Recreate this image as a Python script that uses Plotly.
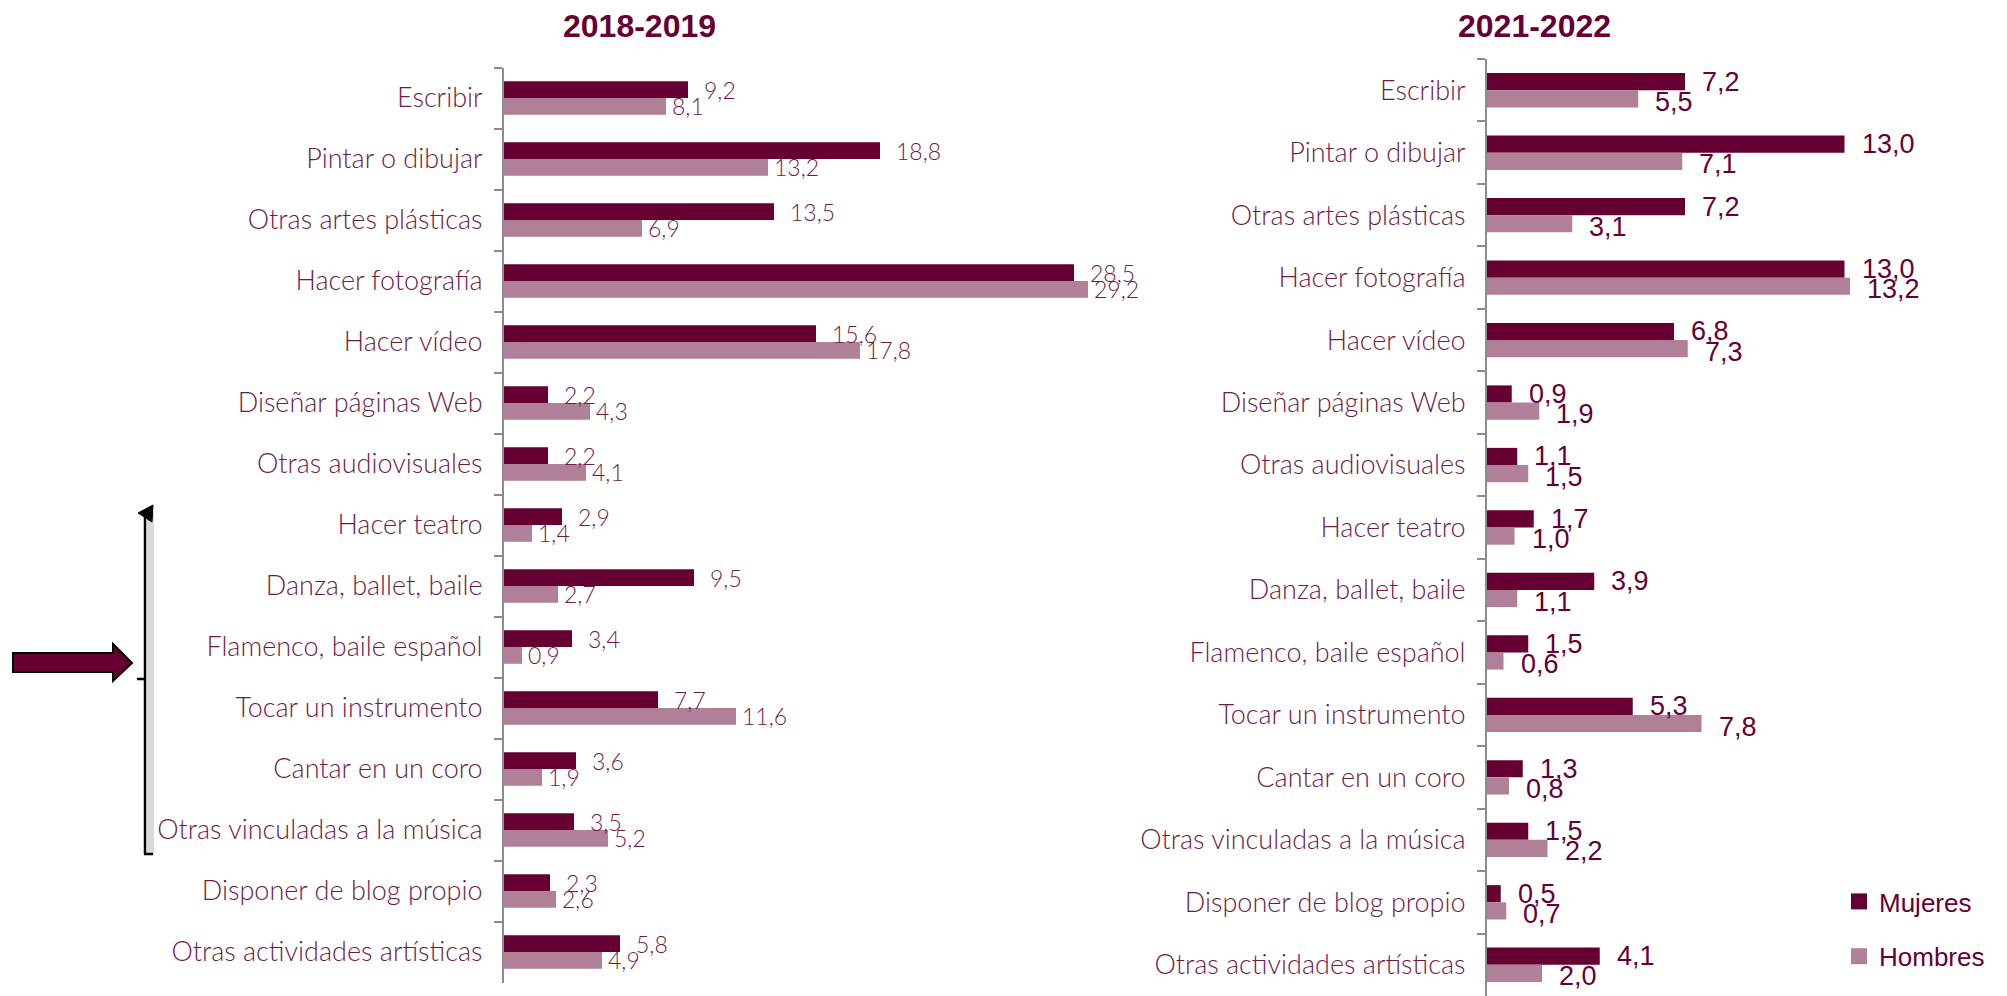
import plotly.graph_objects as go

# ---------------- data ----------------
categories = [
    "Escribir", "Pintar o dibujar", "Otras artes plásticas", "Hacer fotografía",
    "Hacer vídeo", "Diseñar páginas Web", "Otras audiovisuales", "Hacer teatro",
    "Danza, ballet, baile", "Flamenco, baile español", "Tocar un instrumento",
    "Cantar en un coro", "Otras vinculadas a la música", "Disponer de blog propio",
    "Otras actividades artísticas",
]
mujeres_2018 = [9.2, 18.8, 13.5, 28.5, 15.6, 2.2, 2.2, 2.9, 9.5, 3.4, 7.7, 3.6, 3.5, 2.3, 5.8]
hombres_2018 = [8.1, 13.2, 6.9, 29.2, 17.8, 4.3, 4.1, 1.4, 2.7, 0.9, 11.6, 1.9, 5.2, 2.6, 4.9]
mujeres_2021 = [7.2, 13.0, 7.2, 13.0, 6.8, 0.9, 1.1, 1.7, 3.9, 1.5, 5.3, 1.3, 1.5, 0.5, 4.1]
hombres_2021 = [5.5, 7.1, 3.1, 13.2, 7.3, 1.9, 1.5, 1.0, 1.1, 0.6, 7.8, 0.8, 2.2, 0.7, 2.0]
titles = ["2018-2019", "2021-2022"]
series_names = ["Mujeres", "Hombres"]

# ---------------- style ----------------
W, H = 2007, 996
C_M = "#660033"
C_H = "#B07F98"
C_TXT = "#701A46"
AX_COL = "#8C8C8C"
CAT_FONT = dict(family="Lato", size=27, color=C_TXT, weight=300)
VAL_FONT_L = dict(family="Lato", size=23, color=C_TXT, weight=300)
VAL_FONT_R = dict(family="Liberation Sans Narrow, Arial Narrow, Liberation Sans", size=27, color=C_M)


def px(x):
    return x / W


def py(y):
    return 1 - y / H


def fmt(v):
    return f"{v:.1f}".replace(".", ",")


fig = go.Figure()

panels = [
    dict(xa="x", ya="y", m=mujeres_2018, h=hombres_2018),
    dict(xa="x2", ya="y2", m=mujeres_2021, h=hombres_2021),
]
for p in panels:
    fig.add_trace(go.Bar(y=categories, x=p["m"], orientation="h", name=series_names[0],
                         marker=dict(color=C_M, line=dict(width=0)), xaxis=p["xa"], yaxis=p["ya"],
                         showlegend=False, hoverinfo="x+y"))
    fig.add_trace(go.Bar(y=categories, x=p["h"], orientation="h", name=series_names[1],
                         marker=dict(color=C_H, line=dict(width=0)), xaxis=p["xa"], yaxis=p["ya"],
                         showlegend=False, hoverinfo="x+y"))

# legend-only traces
for name, col, grp in [(series_names[0], C_M, "g1"), (series_names[1], C_H, "g2")]:
    fig.add_trace(go.Scatter(x=[None], y=[None], mode="markers", name=name, legendgroup=grp,
                             marker=dict(symbol="square", size=19, color=col), xaxis="x2", yaxis="y2"))

annotations = []
# value labels
shift_l = 8.4
shift_r = 8.6
for cat, vm, vh in zip(categories, mujeres_2018, hombres_2018):
    annotations.append(dict(x=vm, y=cat, xref="x", yref="y", text=fmt(vm), showarrow=False,
                            xanchor="left", yanchor="middle", xshift=14, yshift=shift_l, font=VAL_FONT_L))
    annotations.append(dict(x=vh, y=cat, xref="x", yref="y", text=fmt(vh), showarrow=False,
                            xanchor="left", yanchor="middle", xshift=4, yshift=-shift_l, font=VAL_FONT_L))
for cat, vm, vh in zip(categories, mujeres_2021, hombres_2021):
    annotations.append(dict(x=vm, y=cat, xref="x2", yref="y2", text=fmt(vm), showarrow=False,
                            xanchor="left", yanchor="middle", xshift=15, yshift=shift_r, font=VAL_FONT_R))
    annotations.append(dict(x=vh, y=cat, xref="x2", yref="y2", text=fmt(vh), showarrow=False,
                            xanchor="left", yanchor="middle", xshift=15, yshift=-shift_r - 3, font=VAL_FONT_R))

# titles
for t, cx in zip(titles, [639, 1534]):
    annotations.append(dict(x=px(cx), y=py(26), xref="paper", yref="paper", text=f"<b>{t}</b>",
                            showarrow=False, xanchor="center", yanchor="middle",
                            font=dict(family="Liberation Sans, Arial", size=32, color=C_M)))

shapes = [
    # shadow of bracket
    dict(type="rect", xref="paper", yref="paper", x0=px(147), x1=px(154), y0=py(854), y1=py(513),
         fillcolor="#D9D9D9", line=dict(width=0), layer="above"),
    # bracket line
    dict(type="line", xref="paper", yref="paper", x0=px(145), x1=px(145), y0=py(510), y1=py(854),
         line=dict(color="black", width=2.5)),
    dict(type="line", xref="paper", yref="paper", x0=px(144), x1=px(153), y0=py(854), y1=py(854),
         line=dict(color="black", width=2.5)),
    dict(type="line", xref="paper", yref="paper", x0=px(137), x1=px(146), y0=py(679), y1=py(679),
         line=dict(color="black", width=2.5)),
    # arrowhead at top of bracket
    dict(type="path", xref="paper", yref="paper",
         path=f"M {px(138)} {py(513)} L {px(153)} {py(505)} L {px(152)} {py(522)} Z",
         fillcolor="black", line=dict(color="black", width=1)),
    # big arrow
    dict(type="path", xref="paper", yref="paper",
         path=(f"M {px(13)} {py(653)} L {px(113)} {py(653)} L {px(113)} {py(644)} "
               f"L {px(132)} {py(663)} L {px(113)} {py(681)} L {px(113)} {py(672)} "
               f"L {px(13)} {py(672)} Z"),
         fillcolor=C_M, line=dict(color="black", width=2)),
]

yax_common = dict(type="category", autorange="reversed", showline=True, linecolor=AX_COL, linewidth=2,
                  ticks="outside", tickson="boundaries", ticklen=8, tickwidth=2, tickcolor=AX_COL,
                  showgrid=False, zeroline=False, tickfont=CAT_FONT, ticklabelstandoff=14)
xax_common = dict(showgrid=False, zeroline=False, showticklabels=False, showline=False, ticks="")

fig.update_layout(
    width=W,
    height=H,
    autosize=False,
    barmode="group",
    bargap=0.45,
    bargroupgap=0,
    margin=dict(l=0, r=0, t=0, b=0),
    paper_bgcolor="white",
    plot_bgcolor="white",
    xaxis=dict(domain=[px(504), px(504 + 600)], range=[0, 30], anchor="y", **xax_common),
    yaxis=dict(domain=[py(982.5), py(67.5)], anchor="x", **yax_common),
    xaxis2=dict(domain=[px(1487), px(1487 + 385)], range=[0, 14], anchor="y2", **xax_common),
    yaxis2=dict(domain=[0, py(59)], anchor="x2", **yax_common),
    showlegend=True,
    legend=dict(x=px(1839), y=py(878), xanchor="left", yanchor="top", bgcolor="rgba(0,0,0,0)",
                font=dict(family="Liberation Sans, Arial", size=26, color=C_M),
                tracegroupgap=18, traceorder="grouped"),
    annotations=annotations,
    shapes=shapes,
)

fig.write_html(
    "out.html",
    config={"displayModeBar": False},
    post_script="document.body.style.margin='0';document.body.style.overflow='hidden';",
)
